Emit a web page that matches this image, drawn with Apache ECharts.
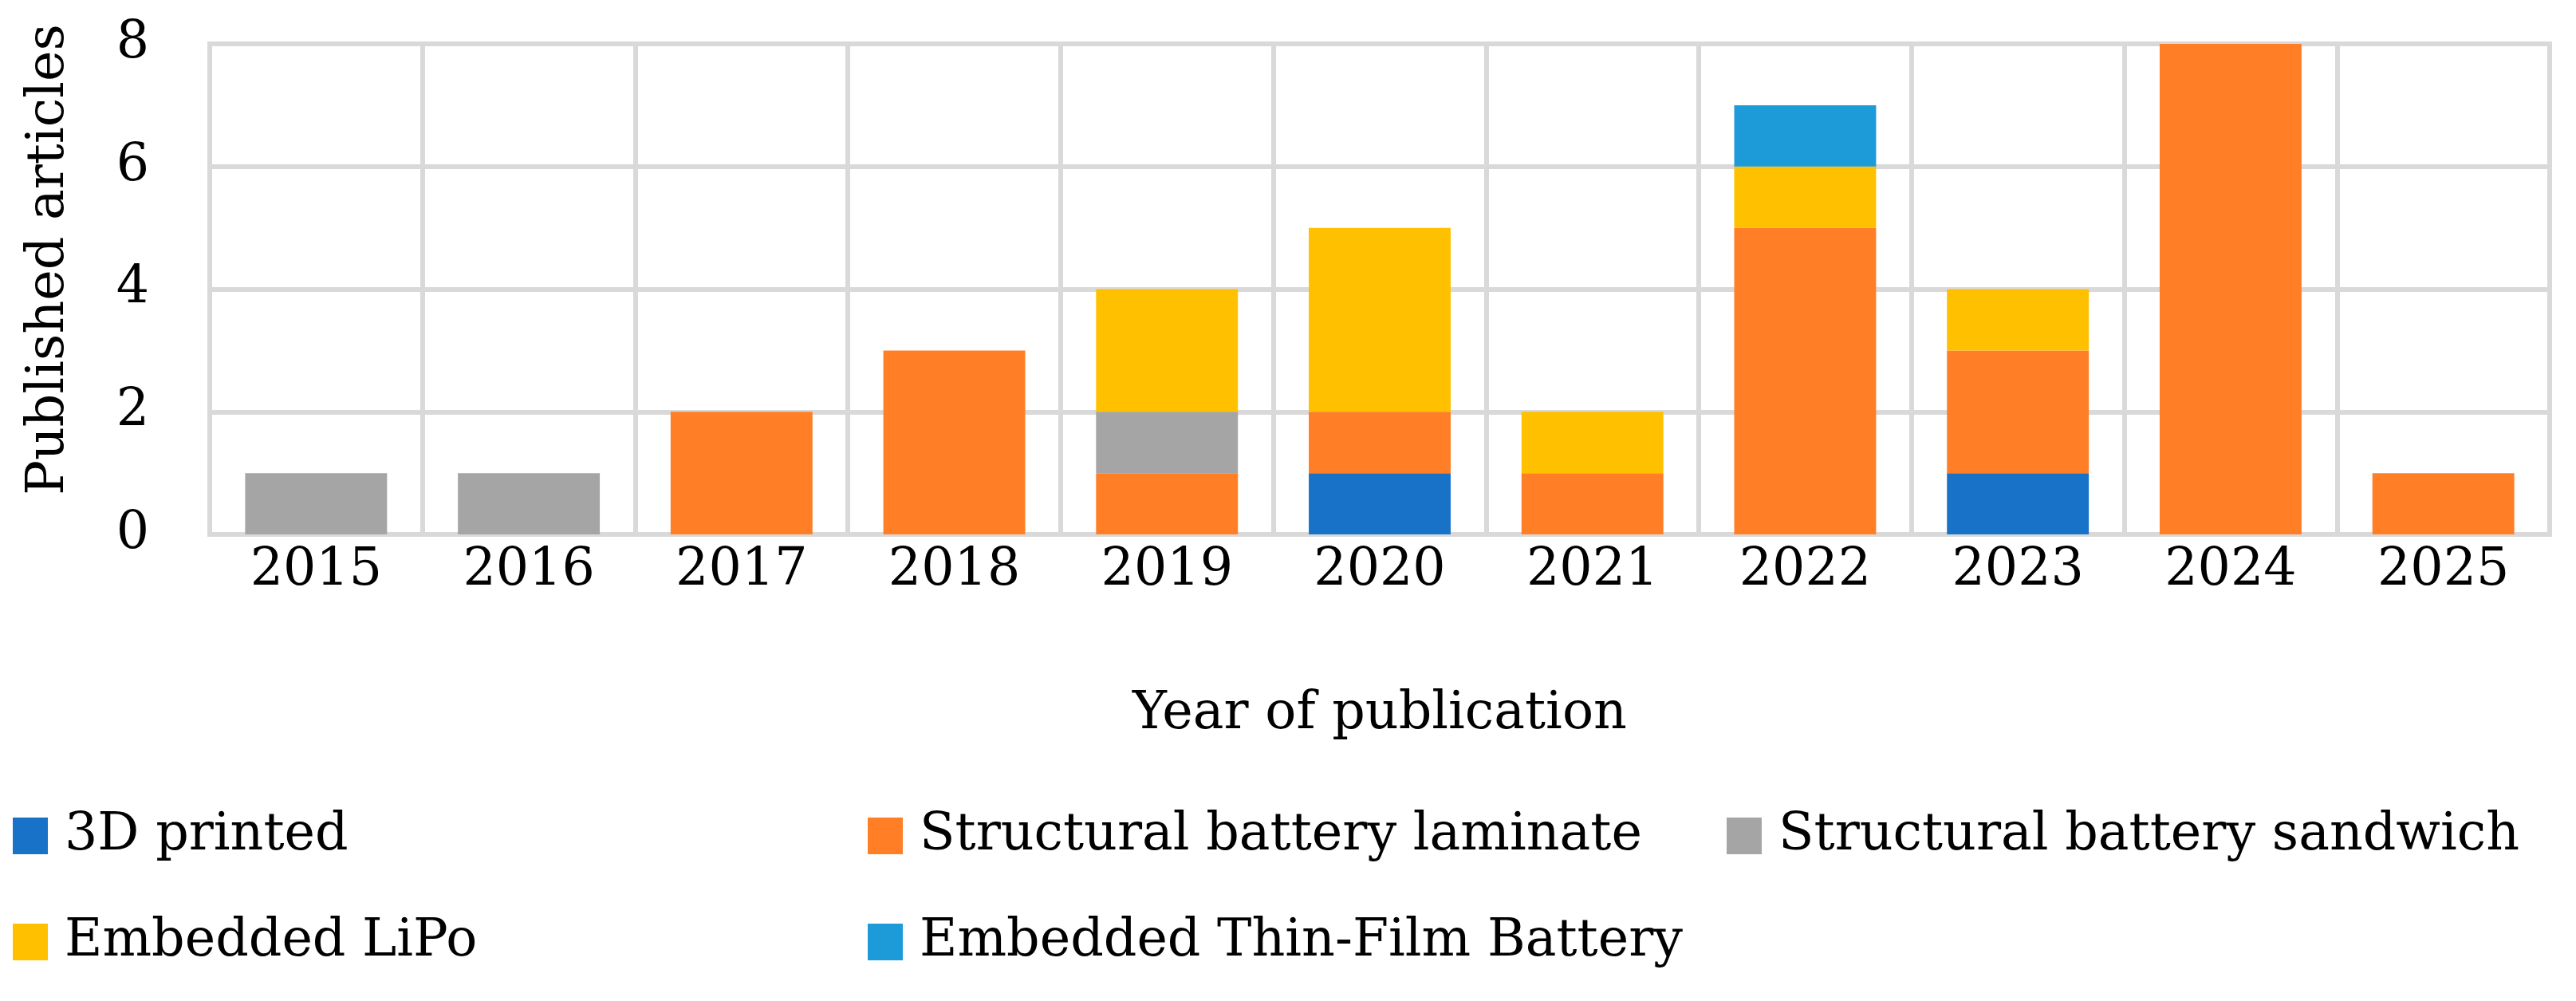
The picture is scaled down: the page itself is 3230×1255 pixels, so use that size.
<!DOCTYPE html>
<html>
<head>
<meta charset="utf-8">
<script src="https://cdn.jsdelivr.net/npm/echarts@6/dist/echarts.min.js"></script>
<style>
html,body{margin:0;padding:0;background:#fff;}
#chart{width:3230px;height:1255px;}
</style>
</head>
<body>
<div id="chart"></div>
<script>
const categories = ['2015','2016','2017','2018','2019','2020','2021','2022','2023','2024','2025'];
const printed3D = [0,0,0,0,0,1,0,0,1,0,0];
const laminate = [0,0,2,3,1,1,1,5,2,8,1];
const sandwich = [1,1,0,0,1,0,0,0,0,0,0];
const lipo = [0,0,0,0,2,3,1,1,1,0,0];
const thinFilm = [0,0,0,0,0,0,0,1,0,0,0];
const seriesNames = ['3D printed','Structural battery laminate','Structural battery sandwich','Embedded LiPo','Embedded Thin-Film Battery'];
const yTicks = [0,2,4,6,8];

const FONT = 'DejaVu Serif';
const FS = 65;
const GRID_C = '#D9D9D9';
const colors = ['#1873C8','#FF7E26','#A5A5A5','#FFC000','#1D9BD8'];
const values = [printed3D, laminate, sandwich, lipo, thinFilm];

const legendPos = [[16,1008],[1088,1008],[2165,1008],[16,1141],[1088,1141]];

const chart = echarts.init(document.getElementById('chart'));
chart.setOption({
  animation:false,
  backgroundColor:'#fff',
  color: colors,
  textStyle:{fontFamily:FONT, color:'#000'},
  grid:{left:263, right:33, top:55, bottom:585, show:true, borderColor:GRID_C, borderWidth:6, containLabel:false},
  legend: seriesNames.map((n,i)=>({
    data:[n], left:legendPos[i][0], top:legendPos[i][1], padding:0,
    icon:'rect', itemWidth:44, itemHeight:46, selectedMode:false,
    textStyle:{fontFamily:FONT, fontSize:FS, color:'#000', lineHeight:80, padding:[0,0,0,16]}
  })),
  xAxis:{
    type:'category', data:categories,
    axisLine:{show:false}, axisTick:{show:false},
    splitLine:{show:true, lineStyle:{color:GRID_C, width:6}},
    axisLabel:{fontFamily:FONT, fontSize:FS, color:'#000', margin:14},
    name:'Year of publication', nameLocation:'middle', nameGap:194,
    nameTextStyle:{fontFamily:FONT, fontSize:FS, color:'#000'}
  },
  yAxis:{
    type:'value', min:0, max:8, interval:2,
    axisLine:{show:false}, axisTick:{show:false},
    splitLine:{show:true, lineStyle:{color:GRID_C, width:6}},
    axisLabel:{fontFamily:FONT, fontSize:FS, color:'#000', margin:76,
      formatter:v=> yTicks.includes(v) ? String(v) : ''},
    name:'Published articles', nameLocation:'middle', nameGap:168, nameRotate:90,
    nameTextStyle:{fontFamily:FONT, fontSize:FS, color:'#000', padding:[0,0,0,74]}
  },
  series: seriesNames.map((n,i)=>({
    name:n, type:'bar', stack:'total', data:values[i],
    barCategoryGap:'33.3%',
    itemStyle:{color:colors[i]}
  }))
});
</script>
</body>
</html>
